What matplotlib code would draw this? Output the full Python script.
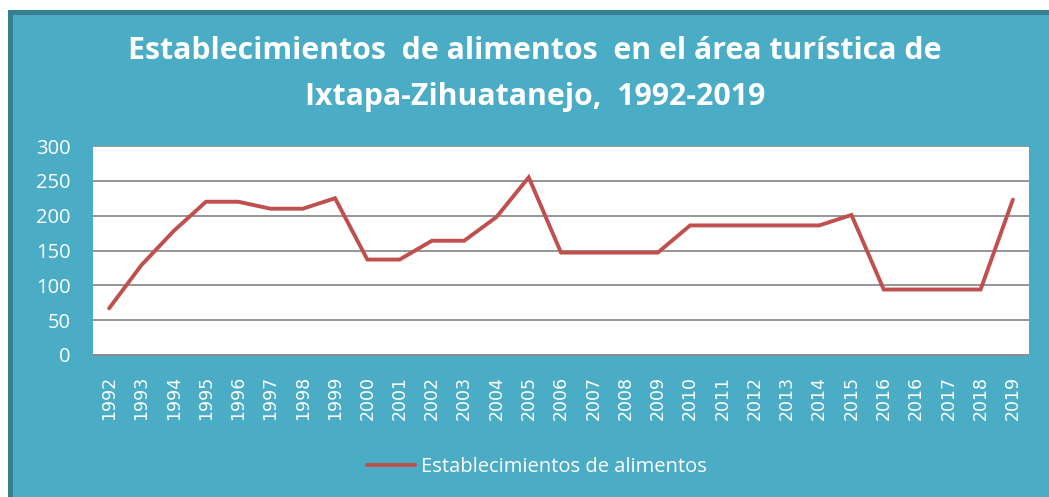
import matplotlib.pyplot as plt
from matplotlib.patches import Rectangle

# data
years = ['1992', '1993', '1994', '1995', '1996', '1997', '1998', '1999', '2000',
         '2001', '2002', '2003', '2004', '2005', '2006', '2007', '2008', '2009',
         '2010', '2011', '2012', '2013', '2014', '2015', '2016', '2016', '2017',
         '2018', '2019']
establecimientos = [67, 129, 178, 220, 220, 210, 210, 225, 137,
                    137, 164, 164, 198, 255, 147, 147, 147, 147,
                    186, 186, 186, 186, 186, 201, 94, 94, 94,
                    94, 223]

teal = '#4BACC6'
dark = '#357F91'
red = '#C0504D'

W, H = 1049, 497
fig = plt.figure(figsize=(W / 100, H / 100), dpi=100)
fig.patch.set_facecolor('white')

# chart frame
fig.patches.append(Rectangle((8 / W, 0), 1 - 8 / W, (H - 10) / H, transform=fig.transFigure,
                             facecolor=dark, edgecolor='none', zorder=-2))
fig.patches.append(Rectangle((13 / W, 0), 1 - 13 / W, (H - 15) / H, transform=fig.transFigure,
                             facecolor=teal, edgecolor='none', zorder=-1))

left, right, top, bottom = 93, 1029, 146, 355
ax = fig.add_axes([left / W, (H - bottom) / H, (right - left) / W, (bottom - top) / H])
ax.set_facecolor('white')

x = list(range(len(years)))
line, = ax.plot(x, establecimientos, color=red, lw=2.8, solid_capstyle='round',
                solid_joinstyle='miter', zorder=3, label='Establecimientos de alimentos')

ax.set_xlim(-0.5, len(years) - 0.5)
ax.set_ylim(0, 300)
ax.set_yticks(range(0, 301, 50))
ax.yaxis.grid(True, color='#8C8C8C', lw=1.3)
ax.set_axisbelow(True)
ax.set_xticks(x)
ax.set_xticklabels(years, rotation=90, fontsize=12.5, color='white', family='DejaVu Sans')
for lab in ax.get_yticklabels():
    lab.set_fontsize(14.5)
    lab.set_color('white')
    lab.set_family('Open Sans')
ax.tick_params(axis='both', length=0)
ax.tick_params(axis='y', pad=16)
ax.tick_params(axis='x', pad=15)
for s in ['top', 'right', 'left']:
    ax.spines[s].set_visible(False)
ax.spines['bottom'].set_color('#8C8C8C')
ax.spines['bottom'].set_linewidth(1.3)

fig.text(535 / W, 1 - 51 / H, 'Establecimientos  de alimentos  en el área turística de',
         ha='center', va='center', color='white', fontsize=21.8, fontweight='bold', family='Open Sans')
fig.text(535 / W, 1 - 97 / H, 'Ixtapa-Zihuatanejo,  1992-2019',
         ha='center', va='center', color='white', fontsize=21.8, fontweight='bold', family='Open Sans')

leg = fig.legend(handles=[line], loc='center', bbox_to_anchor=(537 / W, 1 - 467 / H),
                 frameon=False, fontsize=14.5, handlelength=2.4, handletextpad=0.3)
for t in leg.get_texts():
    t.set_color('white')
    t.set_family('Open Sans')

fig.savefig('out.png', dpi=100, facecolor=fig.get_facecolor())
